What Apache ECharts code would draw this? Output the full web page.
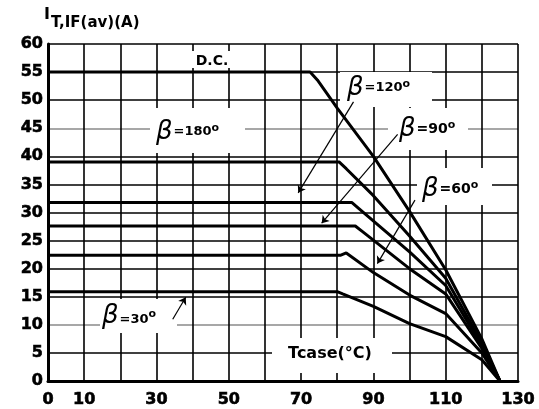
<!DOCTYPE html>
<html><head><meta charset="utf-8">
<script src="https://cdn.jsdelivr.net/npm/echarts@6/dist/echarts.min.js"></script>
<style>html,body{margin:0;padding:0;background:#fff}#c{width:539px;height:409px}</style>
</head><body><div id="c"></div>
<script>
// ---- data ----
const xTickLabels = [0, 10, 30, 50, 70, 90, 110, 130];
const seriesNames = ['D.C.', 'β=180°', 'β=120°', 'β=90°', 'β=60°', 'β=30°'];
const xDC   = [0, 72.5, 74.5, 80, 90, 100, 110, 120, 125];
const yDC   = [55, 55, 53.6, 48.6, 40, 30.2, 19.8, 7.5, 0];
const x180  = [0, 80.5, 82.5, 90, 100, 110, 120, 125];
const y180  = [39, 39, 37.8, 33, 25.8, 18.3, 6.8, 0];
const x120  = [0, 84, 86, 100, 110, 120, 125];
const y120  = [31.8, 31.8, 30.7, 23, 17, 6.3, 0];
const x90   = [0, 85, 87, 100, 110, 120, 125];
const y90   = [27.6, 27.6, 26.6, 20, 15.5, 5.8, 0];
const x60   = [0, 81, 82.5, 90, 100, 110, 120, 125];
const y60   = [22.4, 22.4, 22.8, 19.3, 15.3, 12, 5, 0];
const x30   = [0, 80, 81.5, 90, 100, 110, 120, 125];
const y30   = [15.9, 15.9, 15.5, 13.3, 10.2, 7.9, 3.8, 0];
// annotation arrows: [fromX, fromY, toX, toY] in data units
const arrows = [
  [84.5, 49.7, 69.2, 33.5],
  [96.7, 43.9, 75.7, 28.1],
  [101.5, 32.2, 91.1, 20.9],
  [34.5, 11.0, 38.1, 14.9]
];

const zip = (xs, ys) => xs.map((x, i) => [x, ys[i]]);
const lines = [zip(xDC, yDC), zip(x180, y180), zip(x120, y120), zip(x90, y90), zip(x60, y60), zip(x30, y30)];

const F = 'DejaVu Sans, Liberation Sans, sans-serif';
const chart = echarts.init(document.getElementById('c'), null, {renderer: 'canvas'});

const yGridColors = [];
for (let v = 0; v <= 60; v += 5) yGridColors.push((v === 10 || v === 45) ? '#8a8a8a' : '#000');

function betaLabel(x, y, num, opts) {
  opts = opts || {};
  return {
    type: 'text', x: x, y: y, z: 10,
    style: {
      text: '{b|β}{t|=' + num + '}{s|o}',
      verticalAlign: 'middle', align: 'left',
      rich: {
        b: {fontFamily: 'DejaVu Sans', fontStyle: 'italic', fontSize: 26, fill: '#000', verticalAlign: 'middle'},
        t: {fontFamily: F, fontWeight: 'bold', fontSize: opts.ts || 13, fill: '#000', verticalAlign: 'middle', padding: [opts.tp || 0, 0, 0, 1]},
        s: {fontFamily: F, fontWeight: 'bold', fontSize: 11, fill: '#000', verticalAlign: 'top', padding: [opts.sp || 4, 0, 0, 0]}
      }
    }
  };
}
function box(x, y, w, h) {
  return {type: 'rect', z: 1, shape: {x: x, y: y, width: w, height: h}, style: {fill: '#fff'}};
}

const option = {
  animation: false,
  backgroundColor: '#fff',
  grid: {left: 48, right: 21, top: 44, bottom: 28},
  xAxis: {
    type: 'value', min: 0, max: 130, interval: 10,
    axisLine: {show: true, lineStyle: {color: '#000', width: 3}},
    axisTick: {show: false},
    axisLabel: {
      color: '#000', fontFamily: F, fontWeight: 'bold', fontSize: 16, margin: 11,
      textBorderColor: '#000', textBorderWidth: 0.6,
      formatter: v => xTickLabels.indexOf(v) >= 0 ? String(v) : ''
    },
    splitLine: {show: true, lineStyle: {color: '#000', width: 1.6}}
  },
  yAxis: {
    type: 'value', min: 0, max: 60, interval: 5,
    axisLine: {show: true, lineStyle: {color: '#000', width: 3}},
    axisTick: {show: false},
    axisLabel: {color: '#000', fontFamily: F, fontWeight: 'bold', fontSize: 16, margin: 5,
      textBorderColor: '#000', textBorderWidth: 0.6},
    splitLine: {show: true, lineStyle: {color: yGridColors, width: 1.6}}
  },
  series: lines.map((d, i) => ({
    name: seriesNames[i], type: 'line', data: d, showSymbol: false, symbol: 'none',
    lineStyle: {color: '#000', width: 3}, z: 5,
    markLine: i === 0 ? {
      silent: true, symbol: ['none', 'arrow'], symbolSize: 7, animation: false,
      label: {show: false},
      lineStyle: {color: '#000', width: 1.2, type: 'solid'},
      data: arrows.map(a => [{coord: [a[0], a[1]]}, {coord: [a[2], a[3]]}])
    } : undefined
  })),
  graphic: [
    box(191, 51, 42, 17),
    box(150, 108, 95, 45),
    box(340, 72, 92, 35),
    box(388, 108, 80, 42),
    box(417, 168, 75, 37),
    box(100, 299, 77, 34),
    box(272, 338, 120, 35),
    {
      type: 'text', x: 44, y: 7, z: 10,
      style: {
        text: '{i|I}{s|T,IF(av)(A)}',
        rich: {
          i: {fontFamily: F, fontWeight: 'bold', fontSize: 16, fill: '#000', verticalAlign: 'top'},
          s: {fontFamily: F, fontWeight: 'bold', fontSize: 15, fill: '#000', padding: [9, 0, 0, 1]}
        }
      }
    },
    {type: 'text', x: 212, y: 61, z: 10, style: {text: 'D.C.', fontFamily: F, fontWeight: 'bold', fontSize: 14, fill: '#000', align: 'center', verticalAlign: 'middle'}},
    betaLabel(156, 132, '180'),
    betaLabel(347, 88, '120'),
    betaLabel(399, 129, '90', {ts: 14}),
    betaLabel(422, 189, '60', {ts: 14}),
    betaLabel(102, 316, '30', {tp: 8, sp: 6}),
    {type: 'text', x: 330, y: 354, z: 10, style: {text: 'Tcase(°C)', fontFamily: F, fontWeight: 'bold', fontSize: 16, fill: '#000', align: 'center', verticalAlign: 'middle'}}
  ]
};
chart.setOption(option);
</script>
</body></html>
